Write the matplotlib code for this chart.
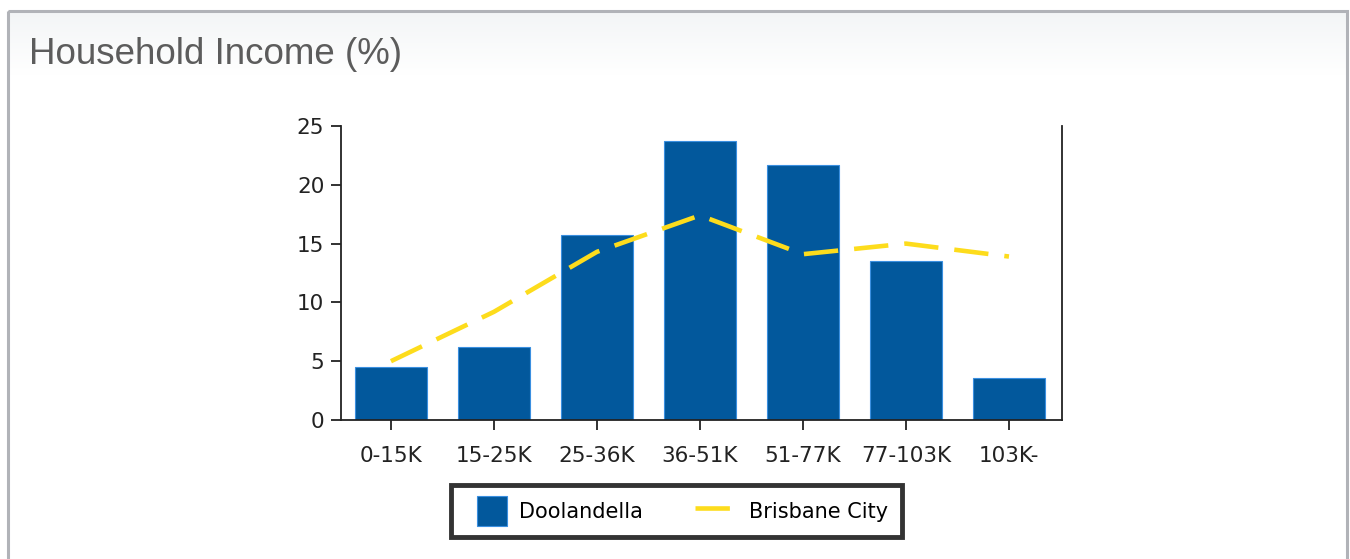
import matplotlib
matplotlib.use("Agg")
import matplotlib.pyplot as plt
import numpy as np
from matplotlib.patches import Rectangle
from matplotlib.legend_handler import HandlerPatch

categories = ["0-15K", "15-25K", "25-36K", "36-51K", "51-77K", "77-103K", "103K-"]
doolandella = [4.5, 6.2, 15.7, 23.7, 21.7, 13.5, 3.6]
brisbane_city = [5.0, 9.2, 14.3, 17.4, 14.1, 15.0, 13.9]
y_ticks = [0, 5, 10, 15, 20, 25]

W, H = 1350, 559
fig = plt.figure(figsize=(W / 100, H / 100), dpi=100)
fig.patch.set_facecolor("white")

# background gradient panel
bg = fig.add_axes([0, 0, 1, 1], zorder=-10)
bg.set_xlim(0, W)
bg.set_ylim(H, 0)
bg.axis("off")
grad = np.ones((100, 1, 3))
t = np.linspace(0, 1, 100)
top_col = np.array([0.953, 0.961, 0.965])
for i in range(3):
    grad[:, 0, i] = top_col[i] + (1 - top_col[i]) * t
bg.imshow(grad, extent=[8, 1346, 75, 11], aspect="auto", interpolation="bilinear")
bg.add_patch(Rectangle((7.5, 10.5), 1339, 600, fill=False, edgecolor="#b1b3b8", linewidth=2.2))
bg.text(29, 55, "Household Income (%)", fontsize=26.5, color="#5c5c5c",
        family="Liberation Sans", va="center", ha="left")

ax = fig.add_axes([341 / W, 1 - 420 / H, (1062 - 341) / W, (420 - 126) / H])
ax.set_facecolor("none")
x = np.arange(len(categories))
ax.bar(x, doolandella, width=0.70, color="#02589c", edgecolor="#3a8fe0", linewidth=0.8,
       label="Doolandella", zorder=2)
line, = ax.plot(x, brisbane_city, color="#fddc1c", linewidth=3.3, label="Brisbane City",
                zorder=3, solid_capstyle="butt", dash_capstyle="butt")
line.set_dashes((7.5, 3.5))
ax.set_xlim(-0.485, 6.515)
ax.set_ylim(0, 25)
ax.set_yticks(y_ticks)
ax.set_xticks(x)
ax.set_xticklabels(categories)
ax.spines["top"].set_visible(False)
for s in ["left", "right", "bottom"]:
    ax.spines[s].set_color("#222222")
    ax.spines[s].set_linewidth(1.3)
ax.tick_params(axis="both", length=7, width=1.3, color="#222222", labelsize=15.5,
               labelcolor="#222222")
ax.tick_params(axis="x", pad=12)
ax.tick_params(axis="y", pad=5)


def square_patch(legend, orig_handle, xdescent, ydescent, width, height, fontsize):
    s = 21.5
    return Rectangle((-xdescent + width - s - 1, -ydescent + (height - s) / 2), s, s)


leg = fig.legend(handles=[ax.patches[0], line], labels=["Doolandella", "Brisbane City"],
                 loc="center", bbox_to_anchor=(676.5 / W, 1 - 511 / H), ncol=2,
                 frameon=True, fancybox=False, fontsize=15, handlelength=2.1,
                 handleheight=1.4, columnspacing=2.5, borderpad=0.68, handletextpad=0.5,
                 handler_map={Rectangle: HandlerPatch(patch_func=square_patch)})
leg.get_frame().set_edgecolor("black")
leg.get_frame().set_linewidth(3.5)

fig.savefig("out.png", dpi=100)
